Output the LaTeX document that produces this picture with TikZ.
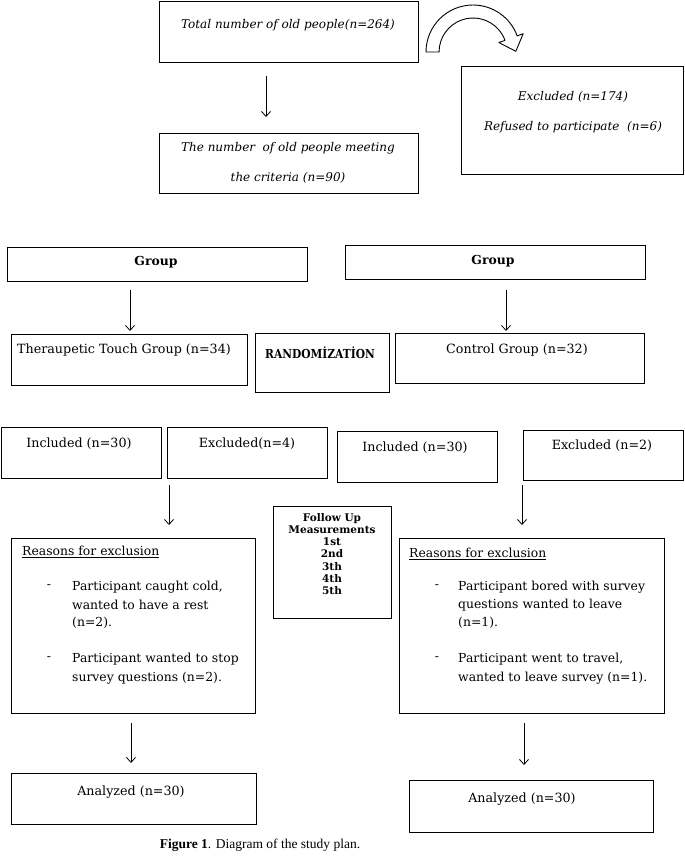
\documentclass[tikz,border=0pt]{standalone}
\usepackage{fontspec}
\setmainfont{DejaVu Serif}
\newfontfamily\capfont{Liberation Serif}
\usetikzlibrary{arrows.meta}
\begin{document}
\begin{tikzpicture}[x=1pt,y=-1pt,
  box/.style={draw, line width=1.25pt, inner sep=0pt, anchor=north west},
  txt/.style={inner sep=0pt, font=\fontsize{12.7}{14}\selectfont},
  btx/.style={inner sep=0pt, font=\fontsize{12.4}{14}\selectfont},
  itx/.style={inner sep=0pt, font=\fontsize{12}{14}\selectfont\itshape},
  bft/.style={inner sep=0pt, font=\fontsize{12.4}{14}\selectfont\bfseries},
  arr/.style={-{Straight Barb[length=5pt,width=9pt]}, line width=0.8pt},
  ]
\useasboundingbox (0,0) rectangle (685,857);
% ---- boxes
\node[box, minimum width=259pt, minimum height=61pt] (tot) at (159,1) {};
\node[box, minimum width=259pt, minimum height=60pt] (crit) at (159,133) {};
\node[box, minimum width=222pt, minimum height=108pt] (excl) at (461,66) {};
\node[box, minimum width=300pt, minimum height=34pt] (g1) at (7,247) {};
\node[box, minimum width=300pt, minimum height=34pt] (g2) at (345,245) {};
\node[box, minimum width=236pt, minimum height=51pt] (tt) at (11,334) {};
\node[box, minimum width=134pt, minimum height=59pt] (rand) at (255,333) {};
\node[box, minimum width=249pt, minimum height=50pt] (ctrl) at (395,333) {};
\node[box, minimum width=160pt, minimum height=51pt] (inc1) at (1,427) {};
\node[box, minimum width=160pt, minimum height=51pt] (exc1) at (167,427) {};
\node[box, minimum width=160pt, minimum height=51pt] (inc2) at (337,431) {};
\node[box, minimum width=160pt, minimum height=50pt] (exc2) at (523,430) {};
\node[box, minimum width=118pt, minimum height=112pt] (fu) at (273,506) {};
\node[box, minimum width=244pt, minimum height=175pt] (rs1) at (11,538) {};
\node[box, minimum width=265pt, minimum height=175pt] (rs2) at (399,538) {};
\node[box, minimum width=245pt, minimum height=51pt] (an1) at (11,773) {};
\node[box, minimum width=244pt, minimum height=52pt] (an2) at (409,780) {};
% ---- texts
\node[itx] (totT) at (288,25) {Total number of old people(n=264)};
\node[itx] (critT1) at (288,148) {The number\ \ of old people meeting};
\node[itx] (critT2) at (288,178) {the criteria (n=90)};
\node[itx] (exclT1) at (573,97) {Excluded (n=174)};
\node[itx] (exclT2) at (573,127) {Refused to participate\ \ (n=6)};
\node[bft] (g1T) at (156,262) {Group};
\node[bft] (g2T) at (493,261) {Group};
\node[txt] (ttT) at (124,350) {Theraupetic Touch Group (n=34)};
\node[bft] (randT) at (320,353) {\scalebox{0.86}[1]{RANDOM\.{I}ZAT\.{I}ON}};
\node[txt] (ctrlT) at (517,350) {Control Group (n=32)};
\node[txt] (inc1T) at (79,444) {Included (n=30)};
\node[txt] (exc1T) at (247,444) {Excluded(n=4)};
\node[txt] (inc2T) at (415,448) {Included (n=30)};
\node[txt] (exc2T) at (602,446) {Excluded (n=2)};
\node[inner sep=0pt, align=center, font=\fontsize{10.5}{12.3}\selectfont\bfseries] (fuT) at (332,554)
  {Follow Up\\Measurements\\1st\\2nd\\3th\\4th\\5th};
\node[btx, anchor=west] (rs1H) at (22,552) {\underline{Reasons for exclusion}};
\node[btx] (rs1d1) at (49,587) {-};
\node[btx, anchor=west] (rs1a) at (72,587) {Participant caught cold,};
\node[btx, anchor=west] (rs1b) at (72,605) {wanted to have a rest};
\node[btx, anchor=west] (rs1c) at (72,623) {(n=2).};
\node[btx] (rs1d2) at (49,659) {-};
\node[btx, anchor=west] (rs1e) at (72,659) {Participant wanted to stop};
\node[btx, anchor=west] (rs1f) at (72,678) {survey questions (n=2).};
\node[btx, anchor=west] (rs2H) at (409,554) {\underline{Reasons for exclusion}};
\node[btx] (rs2d1) at (437,587) {-};
\node[btx, anchor=west] (rs2a) at (458,587) {Participant bored with survey};
\node[btx, anchor=west] (rs2b) at (458,605) {questions wanted to leave};
\node[btx, anchor=west] (rs2c) at (458,623) {(n=1).};
\node[btx] (rs2d2) at (437,659) {-};
\node[btx, anchor=west] (rs2e) at (458,659) {Participant went to travel,};
\node[btx, anchor=west] (rs2f) at (458,678) {wanted to leave survey (n=1).};
\node[txt] (an1T) at (131,792) {Analyzed (n=30)};
\node[txt] (an2T) at (522,799) {Analyzed (n=30)};
\node[inner sep=0pt, font=\capfont\fontsize{13.5}{15}\selectfont] (cap) at (260,845) {\textbf{Figure 1}. Diagram of the study plan.};
% ---- connectors
\coordinate (a1s) at (266,76);  \coordinate (a1e) at (266,117);
\coordinate (a2s) at (130,290); \coordinate (a2e) at (130,331);
\coordinate (a3s) at (506,290); \coordinate (a3e) at (506,331);
\coordinate (a4s) at (169,485); \coordinate (a4e) at (169,525);
\coordinate (a5s) at (522,485); \coordinate (a5e) at (522,525);
\coordinate (a6s) at (131,723); \coordinate (a6e) at (131,763);
\coordinate (a7s) at (524,723); \coordinate (a7e) at (524,765);
\draw[arr] (a1s) -- (a1e);
\draw[arr] (a2s) -- (a2e);
\draw[arr] (a3s) -- (a3e);
\draw[arr] (a4s) -- (a4e);
\draw[arr] (a5s) -- (a5e);
\draw[arr] (a6s) -- (a6e);
\draw[arr] (a7s) -- (a7e);
% ---- curved block arrow
\draw[line width=0.9pt, fill=white, line join=round]
  (426,52) arc[start angle=-180, end angle=-20, radius=47]
  -- (523.2,33.7) -- (515.8,51.3) -- (498.8,42.5) -- (505,40.4)
  arc[start angle=-20, end angle=-180, radius=34] -- cycle;
\end{tikzpicture}
\end{document}
